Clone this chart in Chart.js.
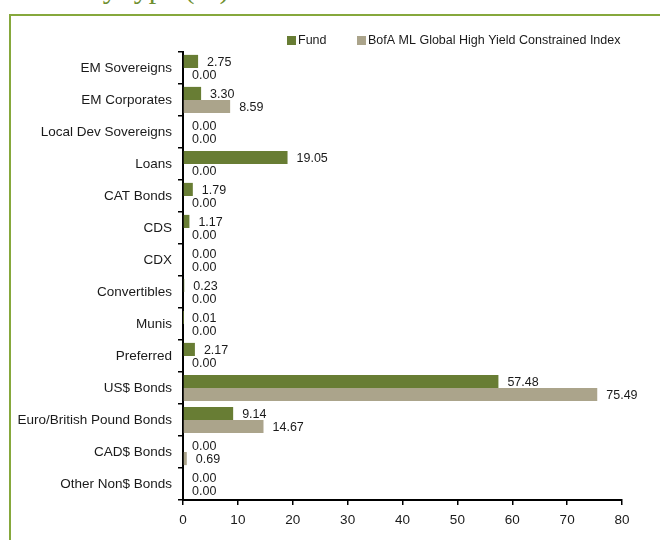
<!DOCTYPE html>
<html>
<head>
<meta charset="utf-8">
<script src="https://cdn.jsdelivr.net/npm/chart.js@4.4.1/dist/chart.umd.min.js"></script>
<style>
  html, body { margin: 0; padding: 0; background: #fff; }
  body { width: 660px; height: 540px; position: relative; overflow: hidden; }
  #title {
    position: absolute; left: 2px; top: -27px; margin: 0;
    font: normal 30px/30px "Liberation Serif", "DejaVu Serif", serif;
    color: #6f8f2f; white-space: nowrap;
  }
  #frame {
    position: absolute; left: 9px; top: 14px; right: -4px; bottom: -4px;
    border-top: 2px solid #86a83c; border-left: 2px solid #86a83c;
  }
  #wrap { position: absolute; left: 0; top: 0; width: 660px; height: 540px; }
</style>
</head>
<body>
<div id="title">Assets by type (%)</div>
<div id="frame"></div>
<div id="wrap"><canvas id="typeChart" width="660" height="540"></canvas></div>
<script>
var FONT = "'Liberation Sans', Arial, sans-serif";

var categories = ["EM Sovereigns", "EM Corporates", "Local Dev Sovereigns", "Loans", "CAT Bonds",
    "CDS", "CDX", "Convertibles", "Munis", "Preferred", "US$ Bonds",
    "Euro/British Pound Bonds", "CAD$ Bonds", "Other Non$ Bonds"];
var fundValues = [2.75, 3.30, 0.00, 19.05, 1.79, 1.17, 0.00, 0.23, 0.01, 2.17, 57.48, 9.14, 0.00, 0.00];
var indexValues = [0.00, 8.59, 0.00, 0.00, 0.00, 0.00, 0.00, 0.00, 0.00, 0.00, 75.49, 14.67, 0.69, 0.00];
var seriesNames = ["Fund", "BofA ML Global High Yield Constrained Index"];
var seriesColors = ["#687d34", "#aba48b"];
var xTicks = [0, 10, 20, 30, 40, 50, 60, 70, 80];

// value labels to the right of each bar
var barLabels = {
    id: 'barLabels',
    afterDatasetsDraw: function (chart) {
        var ctx = chart.ctx;
        ctx.save();
        ctx.font = "12.5px " + FONT;
        ctx.fillStyle = "#1a1a1a";
        ctx.textAlign = "left";
        ctx.textBaseline = "middle";
        chart.data.datasets.forEach(function (ds, i) {
            chart.getDatasetMeta(i).data.forEach(function (bar, j) {
                ctx.fillText(ds.data[j].toFixed(2), bar.x + 9, bar.y + 1);
            });
        });
        ctx.restore();
    }
};

// legend row above the plot
var legendRow = {
    id: 'legendRow',
    afterDraw: function (chart) {
        var ctx = chart.ctx;
        var pos = [287, 357];
        ctx.save();
        ctx.font = "12.5px " + FONT;
        ctx.textBaseline = "middle";
        ctx.textAlign = "left";
        seriesNames.forEach(function (name, i) {
            ctx.fillStyle = seriesColors[i];
            ctx.fillRect(pos[i], 36, 9, 9);
            ctx.fillStyle = "#1a1a1a";
            ctx.fillText(name, pos[i] + 11, 41);
        });
        ctx.restore();
    }
};

var ctx = document.getElementById('typeChart').getContext('2d');
var typeChart = new Chart(ctx, {
    type: 'bar',
    data: {
        labels: categories,
        datasets: [{
            label: seriesNames[0],
            data: fundValues,
            backgroundColor: seriesColors[0],
            categoryPercentage: 0.82,
            barPercentage: 1.0
        }, {
            label: seriesNames[1],
            data: indexValues,
            backgroundColor: seriesColors[1],
            categoryPercentage: 0.82,
            barPercentage: 1.0
        }]
    },
    options: {
        indexAxis: 'y',
        responsive: false,
        animation: false,
        events: [],
        layout: { padding: { top: 52, right: 38, left: 0, bottom: 0 } },
        plugins: {
            legend: { display: false },
            tooltip: { enabled: false }
        },
        scales: {
            x: {
                min: 0,
                max: 80,
                afterBuildTicks: function (scale) {
                    scale.ticks = xTicks.map(function (v) { return { value: v }; });
                },
                afterFit: function (scale) { scale.height = 40; },
                grid: {
                    drawOnChartArea: false,
                    drawTicks: true,
                    tickLength: 5,
                    color: "#000",
                    lineWidth: 1.5
                },
                border: { color: "#000", width: 2 },
                ticks: {
                    padding: 7,
                    maxRotation: 0,
                    color: "#1a1a1a",
                    font: { family: FONT, size: 13.5 }
                }
            },
            y: {
                afterFit: function (scale) { scale.width = 183; },
                grid: {
                    offset: true,
                    drawOnChartArea: false,
                    drawTicks: true,
                    tickLength: 5,
                    color: "#000",
                    lineWidth: 1.5
                },
                border: { color: "#000", width: 2 },
                ticks: {
                    padding: 6,
                    color: "#1a1a1a",
                    font: { family: FONT, size: 13.5 }
                }
            }
        }
    },
    plugins: [barLabels, legendRow]
});
</script>
</body>
</html>
